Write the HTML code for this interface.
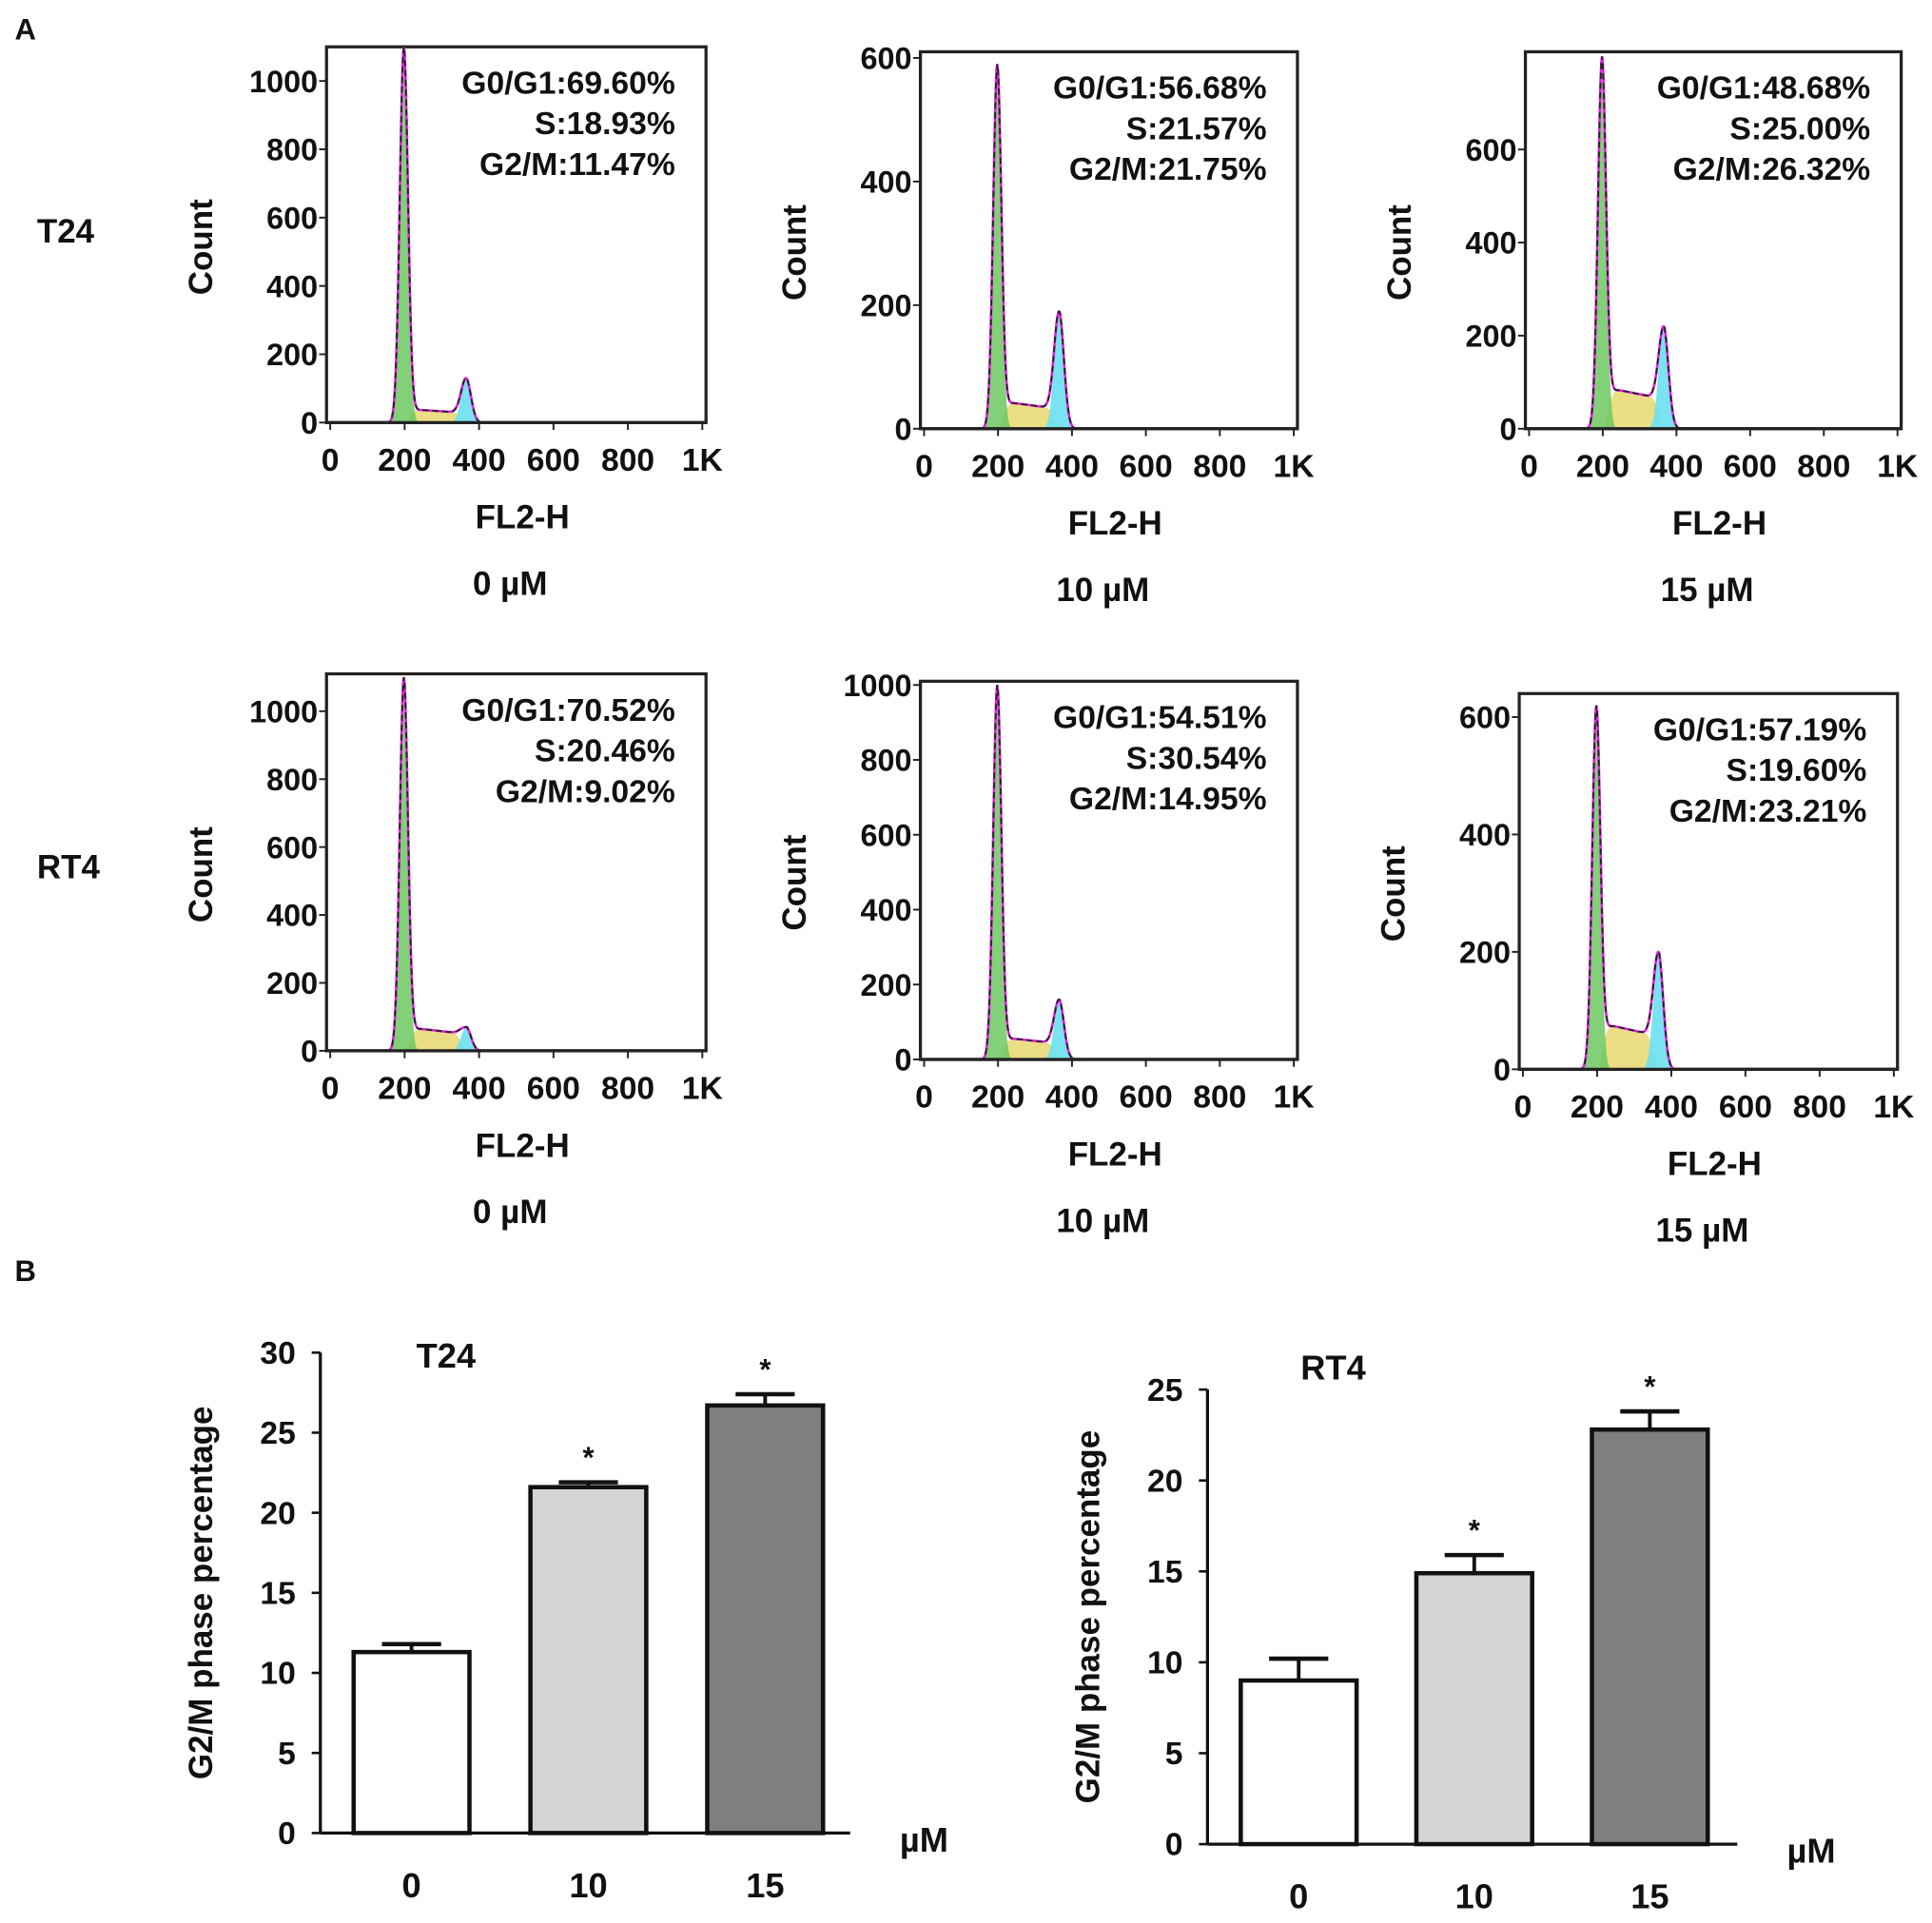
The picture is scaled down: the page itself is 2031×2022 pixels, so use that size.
<!DOCTYPE html>
<html><head><meta charset="utf-8">
<style>
html,body{margin:0;padding:0;background:#fff;}
svg{display:block;}
text{font-family:"Liberation Sans",Arial,sans-serif;font-weight:bold;fill:#111;}
</style></head>
<body>
<svg id="fig" width="2031" height="2022" viewBox="0 0 1568 1561" xmlns="http://www.w3.org/2000/svg">
<text x="12" y="32" font-size="24">A</text>
<text x="12" y="1040" font-size="24">B</text>
<text x="30" y="197" font-size="27">T24</text>
<text x="30" y="713" font-size="27">RT4</text>
<g id="hists"></g>
<g id="bars"></g>
</svg>
<script>
// ---------- Histogram data ----------
const histConc = ["0 µM","10 µM","15 µM","0 µM","10 µM","15 µM"];
const histG1 = ["G0/G1:69.60%","G0/G1:56.68%","G0/G1:48.68%","G0/G1:70.52%","G0/G1:54.51%","G0/G1:57.19%"];
const histS = ["S:18.93%","S:21.57%","S:25.00%","S:20.46%","S:30.54%","S:19.60%"];
const histG2 = ["G2/M:11.47%","G2/M:21.75%","G2/M:26.32%","G2/M:9.02%","G2/M:14.95%","G2/M:23.21%"];
const g1Peak = [1100, 590, 800, 1100, 1000, 620];
const g2Peak = [130, 190, 220, 70, 160, 200];
const sLevel = [40, 45, 90, 70, 60, 80];
const yMax = [1100, 610, 810, 1110, 1010, 640];
const yTicks = [[0,200,400,600,800,1000],[0,200,400,600],[0,200,400,600],[0,200,400,600,800,1000],[0,200,400,600,800,1000],[0,200,400,600]];
const xTicks = [0,200,400,600,800,1000];
const xTickLabels = ["0","200","400","600","800","1K"];

const NS="http://www.w3.org/2000/svg";
function mk(tag, attrs, parent){const e=document.createElementNS(NS,tag);for(const k in attrs)e.setAttribute(k,attrs[k]);parent.appendChild(e);return e;}

const boxes=[[265,38,573,343],[747,42,1053,348],[1238,42,1543,348],[265,547,573,853],[747,553,1053,860],[1233,563,1540,868]];
const H=document.getElementById('hists');
boxes.forEach((b,i)=>{
  const [x0,y0,x1,y1]=b;
  const g=mk('g',{},H);
  
  
  const xs=v=>x0+3+(v/1000)*(x1-x0-6);
  const ys=v=>y1-(Math.min(v,yMax[i])/yMax[i])*(y1-y0);
  const frame=mk('rect',{x:x0,y:y0,width:x1-x0,height:y1-y0,fill:'#fff',stroke:'#222','stroke-width':2.5},g);
  
  
  const gauss=(v,m,s)=>Math.exp(-0.5*((v-m)/s)**2);
  const sFun=v=>(v>200&&v<370)?sLevel[i]*(1-0.3*(v-200)/170):0;
  let pg='',ps='',pc='',pt='';
  for(let v=120;v<=460;v+=2){
    const a=g1Peak[i]*gauss(v,198,11), s=sFun(v)*(1-gauss(v,200,14))*(1-gauss(v,365,12)), c=g2Peak[i]*gauss(v,365,13);
    pg+=`L${xs(v)},${ys(a)}`; ps+=`L${xs(v)},${ys(s)}`; pc+=`L${xs(v)},${ys(c)}`; pt+=`L${xs(v)},${ys(a+s+c)}`;
  }
  const base=`M${xs(120)},${y1}`, end=`L${xs(460)},${y1}Z`;
  const s1=mk('path',{d:base+ps+end,fill:'#e8d870',opacity:0.85},g);
  
  const s2=mk('path',{d:base+pg+end,fill:'#6cc860',opacity:0.85},g);
  
  const s3=mk('path',{d:base+pc+end,fill:'#6ae0f0',opacity:0.9},g);
  
  const s4=mk('path',{d:'M'+pt.slice(1),fill:'none',stroke:'#e020e0','stroke-width':2},g);
  
  const s5=mk('path',{d:'M'+pt.slice(1),fill:'none',stroke:'#222','stroke-width':1.4,'stroke-dasharray':'5,3'},g);
  
  const bl=mk('line',{x1:x0,y1:y1,x2:x1,y2:y1,stroke:'#222','stroke-width':2.5},g);
  
  yTicks[i].forEach(t=>{
    const y=ys(t);
    const l=mk('line',{x1:x0-6,y1:y,x2:x0,y2:y,stroke:'#222','stroke-width':1.5},g);
    
    const tx=mk('text',{x:x0-7,y:y+9,'font-size':25,'text-anchor':'end'},g);tx.textContent=t;
    
  });
  xTicks.forEach((t,k)=>{
    const x=xs(t);
    const l=mk('line',{x1:x,y1:y1,x2:x,y2:y1+6,stroke:'#222','stroke-width':1.5},g);
    
    const tx=mk('text',{x:x,y:y1+39,'font-size':26,'text-anchor':'middle'},g);tx.textContent=xTickLabels[k];
    
  });
  const cx=(x0+x1)/2-5;
  const xt=mk('text',{x:cx+10,y:y1+86,'font-size':27,'text-anchor':'middle'},g);xt.textContent='FL2-H';
  
  const ct=mk('text',{x:cx,y:y1+140,'font-size':27,'text-anchor':'middle'},g);ct.textContent=histConc[i];
  
  const yc=(y0+y1)/2;
  const yt=mk('text',{x:0,y:0,'font-size':27,'text-anchor':'middle',transform:`translate(${x0-93},${yc+10}) rotate(-90)`},g);yt.textContent='Count';
  
  [histG1[i],histS[i],histG2[i]].forEach((s,k)=>{
    const t=mk('text',{x:x1-25,y:y0+38+k*33,'font-size':26,'text-anchor':'end'},g);t.textContent=s;
    
  });
});

// ---------- Bar chart data ----------
const barCats = ["0","10","15"];
const t24Vals = [11.3, 21.6, 26.7];
const t24Err = [0.5, 0.3, 0.7];
const rt4Vals = [9.0, 14.9, 22.8];
const rt4Err = [1.2, 1.0, 1.0];
const t24Ticks = [0,5,10,15,20,25,30];
const rt4Ticks = [0,5,10,15,20,25];
const sig = [false, true, true];
const barFills = ["#ffffff","#d4d4d4","#7f7f7f"];

const B=document.getElementById('bars');
function barChart(name,title,vals,errs,ticks,ax){
  const g=mk('g',{},B);
  
  
  const vmax=ticks[ticks.length-1];
  const ys=v=>ax.y0-(v/vmax)*(ax.y0-ax.yTop);
  const xc=k=>ax.bx0+47+k*ax.step;
  vals.forEach((v,k)=>{
    const x=xc(k), yv=ys(v), ye=ys(v+errs[k]);
    const el=mk('line',{x1:x,y1:yv,x2:x,y2:ye,stroke:'#111','stroke-width':3},g);
    
    const cap=mk('line',{x1:x-24,y1:ye,x2:x+24,y2:ye,stroke:'#111','stroke-width':3.5},g);
    
    const r=mk('rect',{x:x-47,y:yv,width:94,height:ax.y0-yv,fill:barFills[k],stroke:'#111','stroke-width':3.5},g);
    
    if(sig[k]){const s=mk('text',{x:x,y:ye-12,'font-size':24,'font-weight':'normal','text-anchor':'middle'},g);s.textContent='*';
      }
    const lb=mk('text',{x:x,y:ax.y0+52,'font-size':28,'text-anchor':'middle'},g);lb.textContent=barCats[k];
    
  });
  const ya=mk('line',{x1:ax.x,y1:ax.y0,x2:ax.x,y2:ax.yTop,stroke:'#111','stroke-width':2.5},g);
  
  const xa=mk('line',{x1:ax.x,y1:ax.y0,x2:ax.xEnd,y2:ax.y0,stroke:'#111','stroke-width':2.5},g);
  
  ticks.forEach(t=>{const y=ys(t);
    const l=mk('line',{x1:ax.x-7,y1:y,x2:ax.x,y2:y,stroke:'#111','stroke-width':2},g);
    
    const tx=mk('text',{x:ax.x-20,y:y+9,'font-size':26,'font-weight':'normal','text-anchor':'end'},g);tx.textContent=t;
    });
  const tt=mk('text',{x:ax.tx,y:ax.ty,'font-size':28,'text-anchor':'middle'},g);tt.textContent=title;
  
  const um=mk('text',{x:ax.ux,y:ax.y0+15,'font-size':28,'text-anchor':'middle'},g);um.textContent='µM';
  
  const yt=mk('text',{x:0,y:0,'font-size':27,'text-anchor':'middle',transform:`translate(${ax.x-88},${(ax.y0+ax.yTop)/2}) rotate(-90)`},g);yt.textContent='G2/M phase percentage';
  
}
barChart('bar-chart-t24','T24',t24Vals,t24Err,t24Ticks,{x:260,y0:1488,yTop:1098,xEnd:690,bx0:287,step:143.5,tx:362,ty:1110,ux:750});
barChart('bar-chart-rt4','RT4',rt4Vals,rt4Err,rt4Ticks,{x:980,y0:1497,yTop:1128,xEnd:1410,bx0:1007,step:142.5,tx:1082,ty:1120,ux:1470});
</script>
</body></html>
